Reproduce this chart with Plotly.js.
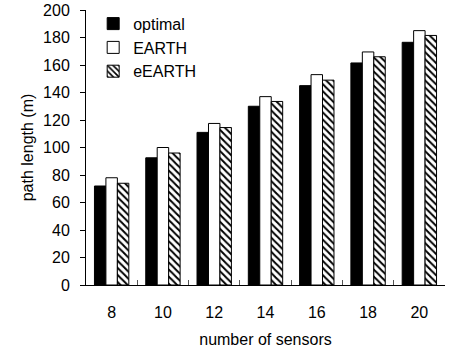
<!DOCTYPE html>
<html><head><meta charset="utf-8">
<script src="https://cdn.plot.ly/plotly-3.0.1.min.js"></script>
<style>html,body{margin:0;padding:0;background:#fff}</style>
</head><body>
<div id="chart" style="width:449px;height:354px"></div>
<script>
var categories = ["8","10","12","14","16","18","20"];
var optimal = [72, 92.5, 111, 130, 145, 161.5, 176.5];
var earth = [78, 100, 117.5, 137, 153, 169.5, 185];
var eearth = [74, 96, 114.5, 133.5, 149, 166, 181.5];
var seriesNames = ["optimal", "EARTH", "eEARTH"];

var font = "Liberation Sans, Arial, sans-serif";
var fs = 16;
var traces = [
  {type:"bar", x:categories, y:optimal, name:seriesNames[0], legendgroup:"a",
   marker:{color:"#000", line:{color:"#000", width:1}}},
  {type:"bar", x:categories, y:earth, name:seriesNames[1], legendgroup:"b",
   marker:{color:"#fff", line:{color:"#000", width:1}}},
  {type:"bar", x:categories, y:eearth, name:seriesNames[2], legendgroup:"c",
   marker:{color:"#fff", line:{color:"#000", width:1},
     pattern:{shape:"\\", fgcolor:"#000", bgcolor:"#fff", size:5, solidity:0.4}}}
];
var layout = {
  width:449, height:354,
  margin:{l:86, r:4, t:10, b:69},
  paper_bgcolor:"#fff", plot_bgcolor:"#fff",
  font:{family:font, size:fs, color:"#000"},
  barmode:"group", bargap:0.33, bargroupgap:0,
  showlegend:true,
  legend:{x:0.02, y:1.012, xanchor:"left", yanchor:"top", bgcolor:"rgba(0,0,0,0)",
    font:{family:font, size:fs, color:"#000"}, traceorder:"grouped", tracegroupgap:0,
    itemwidth:30},
  xaxis:{type:"category", showline:true, linecolor:"#000", linewidth:1,
    ticks:"inside", tickson:"boundaries", ticklen:5, tickcolor:"#555",
    showgrid:false, zeroline:false, ticklabelstandoff:13,
    tickfont:{family:font, size:fs, color:"#000"},
    title:{text:"number of sensors", font:{family:font, size:fs, color:"#000"}, standoff:13}},
  yaxis:{range:[0,200], dtick:20, showline:true, linecolor:"#000", linewidth:1,
    ticks:"outside", ticklen:5, tickcolor:"#000", showgrid:false, zeroline:false,
    ticklabelstandoff:7,
    tickfont:{family:font, size:fs, color:"#000"},
    title:{text:"path length (m)", font:{family:font, size:fs, color:"#000"}, standoff:5}}
};
Plotly.newPlot("chart", traces, layout, {displayModeBar:false, staticPlot:true});
</script>
</body></html>
